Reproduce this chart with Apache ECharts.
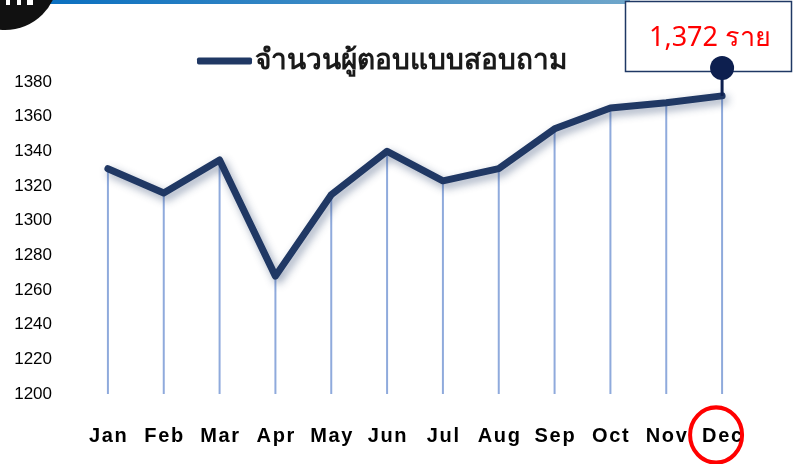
<!DOCTYPE html>
<html>
<head>
<meta charset="utf-8">
<script src="https://cdn.jsdelivr.net/npm/echarts@6/dist/echarts.min.js"></script>
<style>
  html, body { margin: 0; padding: 0; background: #fff; }
  #chart { width: 793px; height: 464px; }
</style>
</head>
<body>
<div id="chart"></div>
<script>
// ข้อมูล
const months = ['Jan', 'Feb', 'Mar', 'Apr', 'May', 'Jun', 'Jul', 'Aug', 'Sep', 'Oct', 'Nov', 'Dec']
const respondents = [1330, 1316, 1335, 1268, 1315, 1340, 1323, 1330, 1353, 1365, 1368, 1372]
const seriesName = 'จำนวนผู้ตอบแบบสอบถาม'
const unitLabel = 'ราย'

const chart = echarts.init(document.getElementById('chart'))

const option = {
  animation: false,
  grid: { left: 80, right: 43, top: 82, bottom: 70 },
  legend: {
    data: [seriesName],
    left: 192,
    top: 42,
    icon: 'roundRect',
    itemWidth: 55,
    itemHeight: 7,
    itemGap: 4,
    textStyle: {
      fontSize: 28,
      fontWeight: 'bold',
      color: '#1a1a1a',
      fontFamily: 'Noto Sans, sans-serif',
      padding: [0, 0, 0, -2]
    }
  },
  xAxis: {
    type: 'category',
    data: months,
    axisLine: { show: false },
    axisTick: { show: false },
    axisLabel: {
      margin: 32,
      color: '#000',
      fontSize: 20,
      fontWeight: 'bold',
      fontFamily: 'Liberation Sans, Arial, sans-serif',
      formatter: (v) => v.split('').join('\u200A')
    }
  },
  yAxis: {
    type: 'value',
    min: 1200,
    max: 1380,
    interval: 20,
    axisLine: { show: false },
    axisTick: { show: false },
    splitLine: { show: false },
    axisLabel: {
      margin: 28,
      color: '#000',
      fontSize: 17,
      fontFamily: 'Liberation Sans, Arial, sans-serif',
      formatter: (v) => String(v)
    }
  },
  series: [
    {
      // เส้นตั้งจากแต่ละจุด
      name: 'drop',
      type: 'bar',
      data: respondents,
      barWidth: 2,
      itemStyle: { color: '#8FAADC' },
      silent: true,
      z: 1
    },
    {
      name: seriesName,
      type: 'line',
      data: respondents,
      showSymbol: false,
      symbol: 'none',
      z: 3,
      itemStyle: { color: '#203864' },
      lineStyle: {
        width: 7,
        color: '#203864',
        join: 'round',
        cap: 'round',
        shadowBlur: 8,
        shadowColor: 'rgba(31,56,100,0.45)',
        shadowOffsetX: 3,
        shadowOffsetY: 4
      }
    }
  ]
}

chart.setOption(option)

// ตำแหน่งจุดเดือนล่าสุด
const lastIdx = respondents.length - 1
const lastPt = chart.convertToPixel({ gridIndex: 0 }, [lastIdx, respondents[lastIdx]])
const lastLabelPt = chart.convertToPixel({ gridIndex: 0 }, [lastIdx, 1200])

chart.setOption({
  graphic: [
    // โลโก้มุมซ้ายบน
    { type: 'circle', shape: { cx: 5, cy: -23, r: 53 }, style: { fill: '#111' }, z: 10 },
    { type: 'rect', shape: { x: 6, y: 0, width: 4, height: 5 }, style: { fill: '#fff' }, z: 11 },
    { type: 'rect', shape: { x: 17, y: 0, width: 4, height: 5 }, style: { fill: '#fff' }, z: 11 },
    { type: 'rect', shape: { x: 27, y: 0, width: 6, height: 5 }, style: { fill: '#fff' }, z: 11 },
    // แถบสีฟ้าด้านบน
    {
      type: 'rect',
      shape: { x: 50, y: 0, width: 580, height: 4 },
      style: {
        fill: new echarts.graphic.LinearGradient(0, 0, 1, 0, [
          { offset: 0, color: '#0B70C0' },
          { offset: 1, color: '#6FA6CA' }
        ])
      },
      z: 9
    },
    // กล่องคำอธิบาย
    {
      type: 'rect',
      shape: { x: 625.5, y: 1.5, width: 166, height: 70 },
      style: { fill: '#fff', stroke: '#1F3864', lineWidth: 1.5 },
      z: 10
    },
    {
      type: 'text',
      x: 710,
      y: 38,
      style: {
        text: respondents[lastIdx].toLocaleString('en-US') + ' ' + unitLabel,
        fill: '#FF0000',
        fontSize: 27,
        fontFamily: 'Noto Sans, sans-serif',
        align: 'center',
        verticalAlign: 'middle'
      },
      z: 11
    },
    {
      type: 'line',
      shape: { x1: lastPt[0], y1: 68, x2: lastPt[0], y2: lastPt[1] },
      style: { stroke: '#0D1F4F', lineWidth: 3 },
      z: 11
    },
    {
      type: 'circle',
      shape: { cx: lastPt[0], cy: 68, r: 12 },
      style: { fill: '#0D1F4F' },
      z: 12
    },
    // วงกลมสีแดงรอบ Dec
    {
      type: 'circle',
      shape: { cx: 0, cy: 0, r: 26 },
      x: lastLabelPt[0] - 6,
      y: 435,
      scaleY: 1.06,
      style: { fill: 'none', stroke: '#FF0000', lineWidth: 4 },
      z: 12
    }
  ]
})
</script>
</body>
</html>
